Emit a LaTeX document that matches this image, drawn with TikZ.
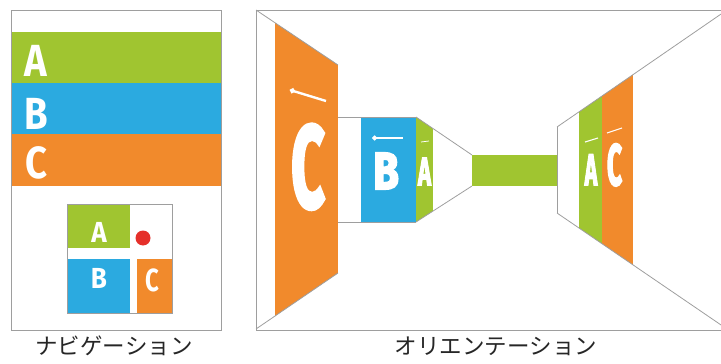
\documentclass[tikz,border=0pt]{standalone}
\usepackage{fontspec}
\setmainfont{Fira Sans}
\newfontfamily\jpfont{Noto Sans CJK JP}
\newfontfamily\thickfont[FakeBold=4]{Fira Sans}
\usetikzlibrary{arrows.meta}

\definecolor{segGreen}{HTML}{A0C530}
\definecolor{segBlue}{HTML}{2BAAE0}
\definecolor{segOrange}{HTML}{F18A2C}
\definecolor{spotRed}{HTML}{E5302A}
\definecolor{frameGray}{HTML}{9E9E9E}

\newcommand{\slim}[2]{\scalebox{#1}[1]{#2}}

\tikzset{
  frame/.style={draw=frameGray, line width=0.9pt},
  persp/.style={draw=frameGray, line width=0.8pt},
  letter/.style={text=white, inner sep=0pt, anchor=base, font=\bfseries\fontsize{#1}{#1}\selectfont},
  thickletter/.style={text=white, inner sep=0pt, anchor=base, font=\thickfont\bfseries\fontsize{#1}{#1}\selectfont},
  pointer/.style={white, line width=#1, {Circle[length=5pt,width=5pt]}-},
  caption/.style={font=\jpfont\fontsize{22.5}{22.5}\selectfont, text=black!85, inner sep=0pt}
}

\begin{document}
\begin{tikzpicture}[x=1pt, y=-1pt]
  \useasboundingbox (0,0) rectangle (721,364);

  % navigation panel
  \fill[segGreen] (11,32) rectangle (221,83);
  \fill[segBlue] (11,83) rectangle (221,134);
  \fill[segOrange] (11,134) rectangle (221,186);
  \draw[frame] (11,10) rectangle (221,330);

  \node[letter=45] (navA) at (36,76) {\slim{0.85}{A}};
  \node[letter=45] (navB) at (36,129) {\slim{0.85}{B}};
  \node[letter=45] (navC) at (36,178) {\slim{0.85}{C}};

  \fill[segGreen] (67,204) rectangle (130,248);
  \fill[segBlue] (67,259) rectangle (130,313);
  \fill[segOrange] (137,259) rectangle (172,313);
  \draw[frame, line width=0.7pt] (67,204) rectangle (172,313);
  \fill[spotRed] (143,238) circle (7.5);

  \node[letter=29] (mapA) at (99,242) {\slim{0.9}{A}};
  \node[letter=29] (mapB) at (99,288) {\slim{0.9}{B}};
  \node[letter=32] (mapC) at (152,291) {\slim{0.75}{C}};

  \node[caption] (navLabel) at (114,346) {ナビゲーション};

  % orientation panel
  \draw[frame] (256,10) -- (724,10);
  \draw[frame] (256,330) -- (724,330);
  \draw[frame] (256,10) -- (256,330);

  \begin{scope}
    \clip (256,10) -- (338,65) -- (338,273) -- (256,329) -- cycle;
    \fill[segOrange] (275,0) rectangle (338,340);
  \end{scope}
  \draw[persp] (256,10) -- (338,65);
  \draw[persp] (256,329) -- (338,273);

  \fill[segBlue] (361,117) rectangle (416,222);
  \draw[persp] (338,117) -- (416,117);
  \draw[persp] (338,222) -- (416,222);

  \begin{scope}
    \clip (416,117) -- (472,155) -- (472,186) -- (416,222) -- cycle;
    \fill[segGreen] (416,100) rectangle (433,240);
  \end{scope}
  \draw[persp] (416,117) -- (472,155);
  \draw[persp] (416,222) -- (472,186);

  \fill[segGreen] (472,155) rectangle (557,186);

  \begin{scope}
    \clip (557,127) -- (724,12) -- (724,327) -- (557,213) -- cycle;
    \fill[segGreen] (579,0) rectangle (602,340);
    \fill[segOrange] (602,0) rectangle (633,340);
  \end{scope}
  \draw[persp] (557,127) -- (557,213);
  \draw[persp] (557,127) -- (724,12);
  \draw[persp] (557,213) -- (724,327);

  \node[thickletter=116] (farC) at (308,207) {\slim{0.5}{C}};
  \node[thickletter=52] (midB) at (386,189) {\slim{0.8}{B}};
  \node[thickletter=39] (nearA) at (424.5,185) {\slim{0.56}{A}};
  \node[thickletter=44] (backA) at (591,185) {\slim{0.48}{A}};
  \node[thickletter=58] (backC) at (614.5,185) {\slim{0.45}{C}};

  \coordinate (farTail) at (326,101);
  \coordinate (farHead) at (290,90);
  \coordinate (midTail) at (403,138);
  \coordinate (midHead) at (372,138);
  \coordinate (nearTail) at (429,141);
  \coordinate (nearHead) at (421,142);
  \coordinate (backATail) at (598,138);
  \coordinate (backAHead) at (585,142);
  \coordinate (backCTail) at (622,128);
  \coordinate (backCHead) at (607,133);

  \draw[pointer=2.4pt] (farHead) -- (farTail);
  \draw[pointer=1.2pt] (midHead) -- (midTail);
  \draw[white, line width=0.8pt] (nearHead) -- (nearTail);
  \draw[white, line width=1.1pt] (backAHead) -- (backATail);
  \draw[white, line width=1.1pt] (backCHead) -- (backCTail);

  \node[caption] (orientLabel) at (496,346) {オリエンテーション};
\end{tikzpicture}
\end{document}
